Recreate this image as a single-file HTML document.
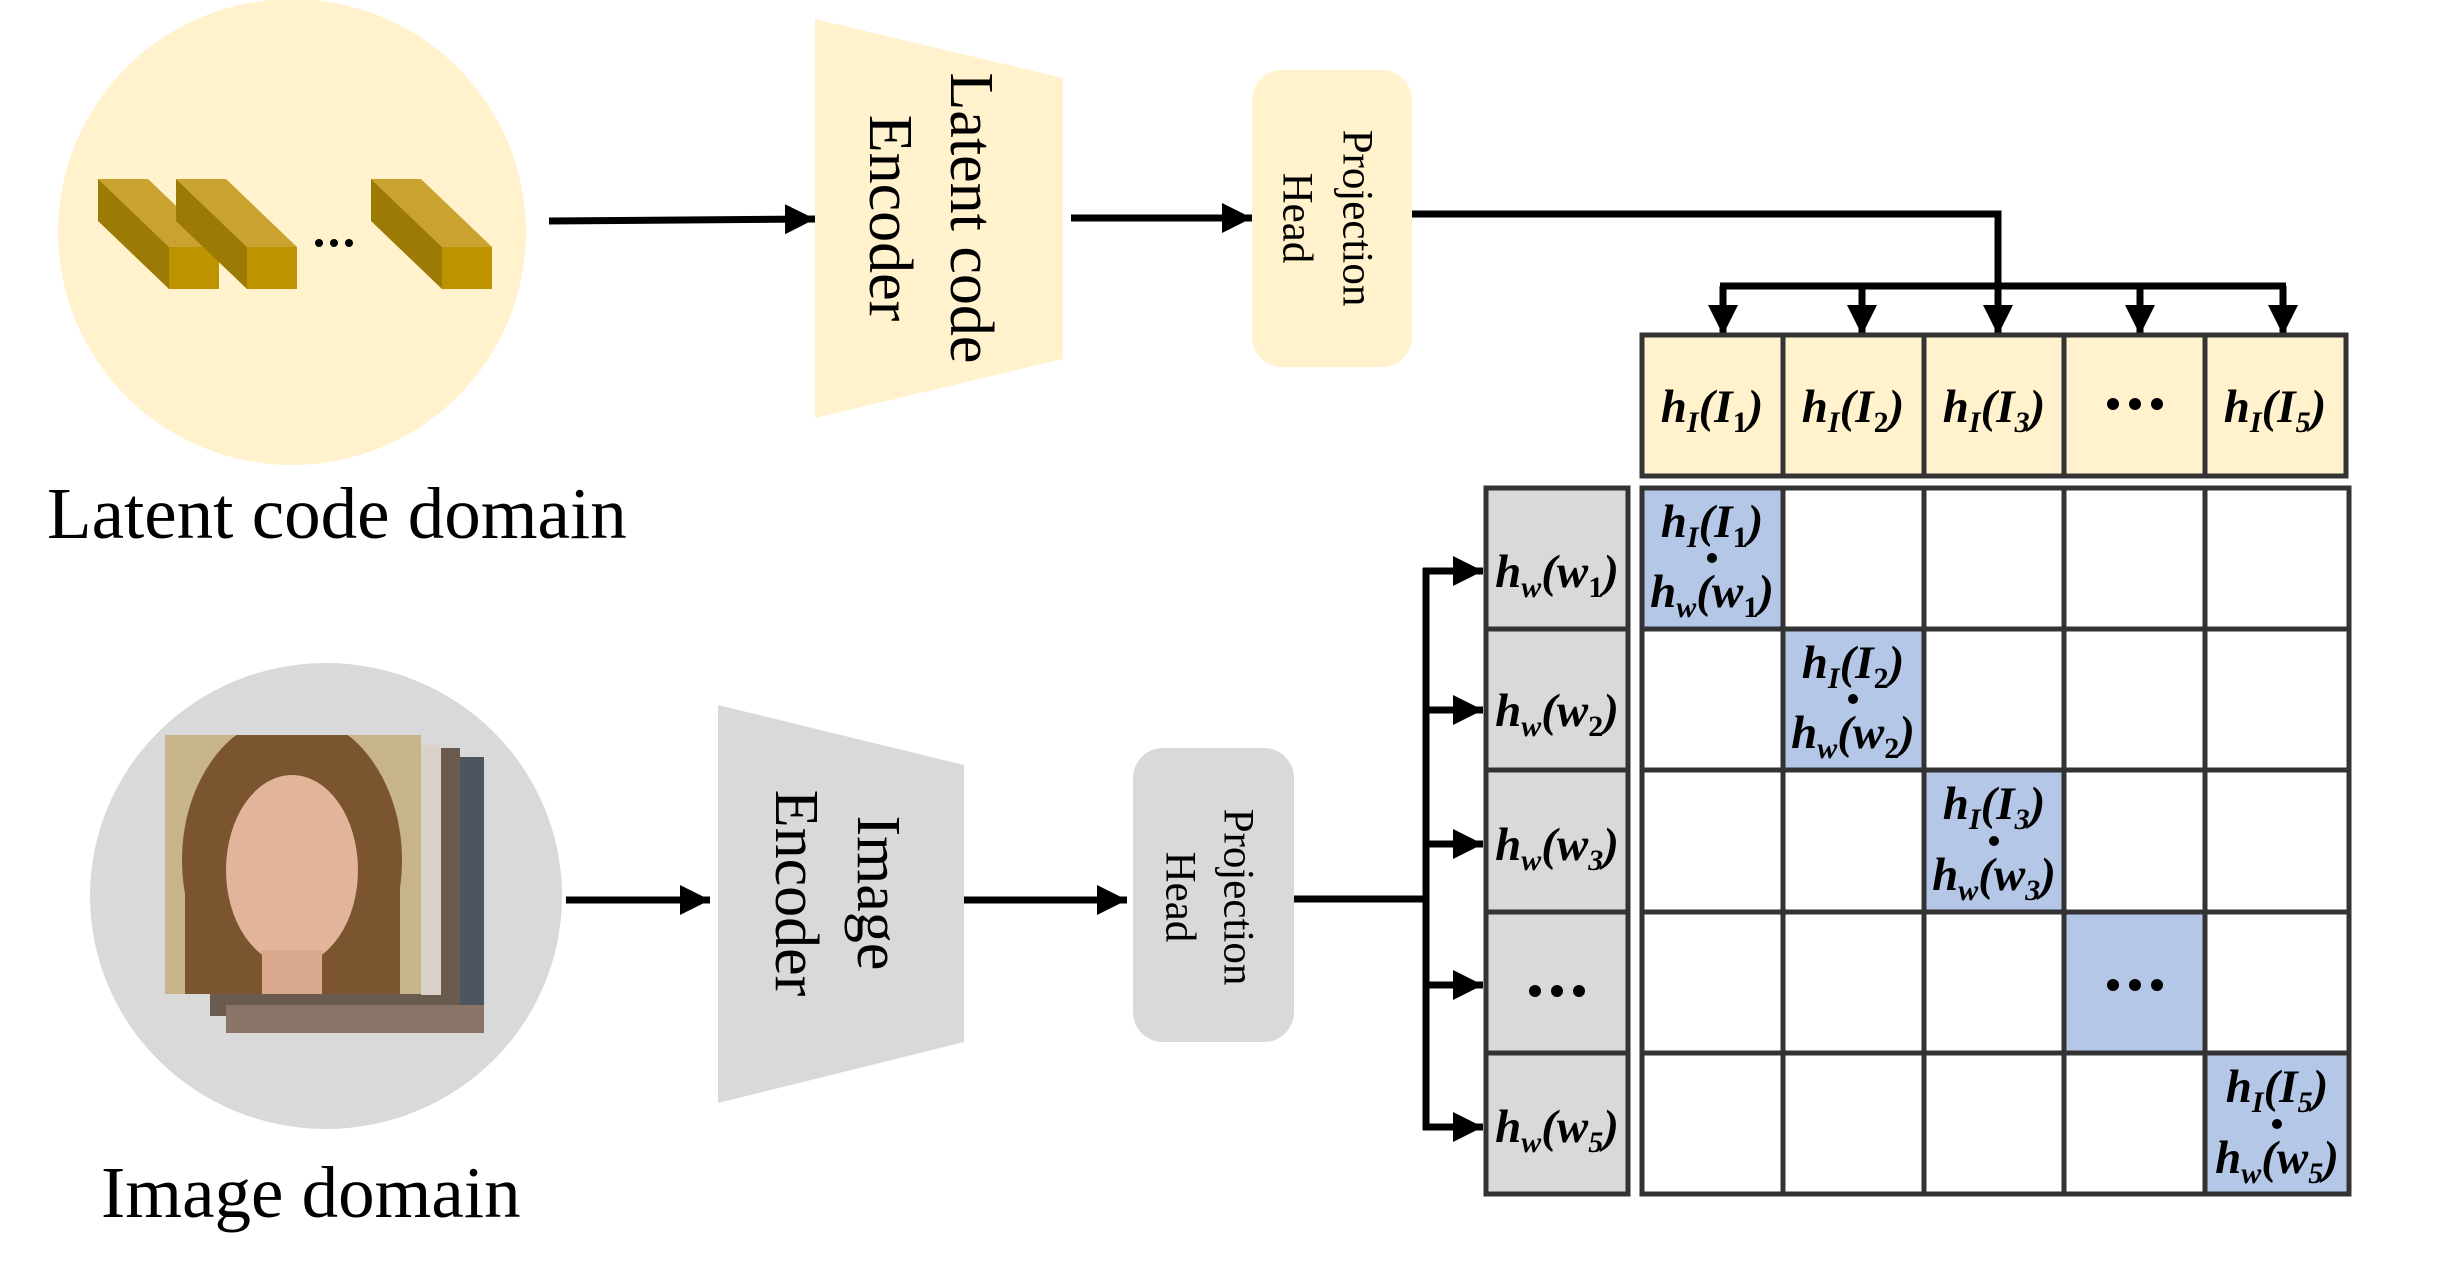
<!DOCTYPE html>
<html><head><meta charset="utf-8"><style>
html,body{margin:0;padding:0;background:#fff;}
svg{display:block;}
.t{font-family:"Liberation Serif",serif;fill:#000;}
.m{font-family:"Liberation Serif",serif;font-style:italic;font-weight:bold;font-size:47px;fill:#000;}
.s{font-size:30px;}
.n{font-style:normal;}
</style></head><body>
<svg width="2447" height="1280" viewBox="0 0 2447 1280" xmlns="http://www.w3.org/2000/svg">
<defs>
<marker id="a" markerUnits="userSpaceOnUse" markerWidth="34" markerHeight="34" refX="30" refY="15" orient="auto">
<polygon points="0,0 30,15 0,30" fill="#000"/>
</marker>
<clipPath id="fc"><rect x="165" y="735" width="256" height="259"/></clipPath>
</defs>

<ellipse cx="292" cy="232" rx="234" ry="233" fill="#fff2cc"/>
<ellipse cx="326" cy="896" rx="236" ry="233" fill="#d9d9d9"/>

<g>
<polygon points="98,179 148,179 219,247 169,247" fill="#c9a22f"/>
<polygon points="98,179 169,247 169,289 98,221" fill="#9c7a06"/>
<rect x="169" y="247" width="50" height="42" fill="#bf9300"/>
<polygon points="176,179 226,179 297,247 247,247" fill="#c9a22f"/>
<polygon points="176,179 247,247 247,289 176,221" fill="#9c7a06"/>
<rect x="247" y="247" width="50" height="42" fill="#bf9300"/>
<polygon points="371,179 421,179 492,247 442,247" fill="#c9a22f"/>
<polygon points="371,179 442,247 442,289 371,221" fill="#9c7a06"/>
<rect x="442" y="247" width="50" height="42" fill="#bf9300"/>
<circle cx="319" cy="243" r="4"/><circle cx="334" cy="243" r="4"/><circle cx="349" cy="243" r="4"/>
</g>

<rect x="226" y="757" width="258" height="276" fill="#4d5561"/>
<rect x="210" y="748" width="250" height="268" fill="#6b5a4e"/>
<rect x="226" y="1005" width="258" height="28" fill="#8a7468"/>
<rect x="421" y="745" width="20" height="250" fill="#d8d2c8"/>
<g clip-path="url(#fc)">
<rect x="165" y="735" width="256" height="259" fill="#c8b48a"/>
<ellipse cx="292" cy="860" rx="110" ry="145" fill="#7a5530"/>
<rect x="185" y="860" width="215" height="140" fill="#7a5530"/>
<ellipse cx="292" cy="870" rx="66" ry="95" fill="#e2b49a"/>
<rect x="262" y="950" width="60" height="50" fill="#d9a78c"/>
</g>

<polygon points="815,19 1063,78 1063,359 815,418" fill="#fff2cc"/>
<polygon points="718,705 964,765 964,1042 718,1103" fill="#d9d9d9"/>
<text class="t" font-size="62" text-anchor="middle" dominant-baseline="central" transform="rotate(90 971 218)" x="971" y="218">Latent code</text>
<text class="t" font-size="62" text-anchor="middle" dominant-baseline="central" transform="rotate(90 890 218)" x="890" y="218">Encoder</text>
<text class="t" font-size="62" text-anchor="middle" dominant-baseline="central" transform="rotate(90 878 893)" x="878" y="893">Image</text>
<text class="t" font-size="62" text-anchor="middle" dominant-baseline="central" transform="rotate(90 796 893)" x="796" y="893">Encoder</text>

<rect x="1252" y="70" width="160" height="297" rx="30" fill="#fff2cc"/>
<rect x="1133" y="748" width="161" height="294" rx="30" fill="#d9d9d9"/>
<text class="t" font-size="43" text-anchor="middle" dominant-baseline="central" transform="rotate(90 1357 218)" x="1357" y="218">Projection</text>
<text class="t" font-size="43" text-anchor="middle" dominant-baseline="central" transform="rotate(90 1297 218)" x="1297" y="218">Head</text>
<text class="t" font-size="43" text-anchor="middle" dominant-baseline="central" transform="rotate(90 1238 897)" x="1238" y="897">Projection</text>
<text class="t" font-size="43" text-anchor="middle" dominant-baseline="central" transform="rotate(90 1180 897)" x="1180" y="897">Head</text>

<text class="t" font-size="73" x="47" y="538">Latent code domain</text>
<text class="t" font-size="73" x="101" y="1217">Image domain</text>

<g stroke="#000" stroke-width="7" fill="none">
<line x1="549" y1="221" x2="815" y2="219" marker-end="url(#a)"/>
<line x1="1071" y1="218" x2="1252" y2="218" marker-end="url(#a)"/>
<line x1="566" y1="900" x2="710" y2="900" marker-end="url(#a)"/>
<line x1="964" y1="900" x2="1127" y2="900" marker-end="url(#a)"/>
<polyline points="1412,214 1998,214 1998,300"/>
<line x1="1720" y1="286" x2="2286" y2="286"/>
<line x1="1723" y1="286" x2="1723" y2="335" marker-end="url(#a)"/>
<line x1="1862" y1="286" x2="1862" y2="335" marker-end="url(#a)"/>
<line x1="1998" y1="286" x2="1998" y2="335" marker-end="url(#a)"/>
<line x1="2140" y1="286" x2="2140" y2="335" marker-end="url(#a)"/>
<line x1="2283" y1="286" x2="2283" y2="335" marker-end="url(#a)"/>
<line x1="1294" y1="899" x2="1426" y2="899"/>
<line x1="1426" y1="568" x2="1426" y2="1130"/>
<line x1="1423" y1="571" x2="1483" y2="571" marker-end="url(#a)"/>
<line x1="1423" y1="710" x2="1483" y2="710" marker-end="url(#a)"/>
<line x1="1423" y1="844" x2="1483" y2="844" marker-end="url(#a)"/>
<line x1="1423" y1="985" x2="1483" y2="985" marker-end="url(#a)"/>
<line x1="1423" y1="1127" x2="1483" y2="1127" marker-end="url(#a)"/>
</g>

<g stroke="#333" stroke-width="5">
<rect x="1642" y="335" width="141" height="141" fill="#fff2cc"/>
<rect x="1783" y="335" width="141" height="141" fill="#fff2cc"/>
<rect x="1924" y="335" width="140" height="141" fill="#fff2cc"/>
<rect x="2064" y="335" width="141" height="141" fill="#fff2cc"/>
<rect x="2205" y="335" width="141" height="141" fill="#fff2cc"/>
</g>
<g stroke="#333" stroke-width="5" fill="#d9d9d9">
<rect x="1486" y="488" width="142" height="141"/>
<rect x="1486" y="629" width="142" height="141"/>
<rect x="1486" y="770" width="142" height="142"/>
<rect x="1486" y="912" width="142" height="141"/>
<rect x="1486" y="1053" width="142" height="141"/>
</g>
<g stroke="#333" stroke-width="5">
<rect x="1642" y="488" width="707" height="706" fill="#fff"/>
<rect x="1642" y="488" width="141" height="141" fill="#b4c7e7"/>
<rect x="1783" y="629" width="141" height="141" fill="#b4c7e7"/>
<rect x="1924" y="770" width="140" height="142" fill="#b4c7e7"/>
<rect x="2064" y="912" width="141" height="141" fill="#b4c7e7"/>
<rect x="2205" y="1053" width="144" height="141" fill="#b4c7e7"/>
<line x1="1783" y1="488" x2="1783" y2="1194"/>
<line x1="1924" y1="488" x2="1924" y2="1194"/>
<line x1="2064" y1="488" x2="2064" y2="1194"/>
<line x1="2205" y1="488" x2="2205" y2="1194"/>
<line x1="1642" y1="629" x2="2349" y2="629"/>
<line x1="1642" y1="770" x2="2349" y2="770"/>
<line x1="1642" y1="912" x2="2349" y2="912"/>
<line x1="1642" y1="1053" x2="2349" y2="1053"/>
</g>

<text class="m" x="1712" y="422" text-anchor="middle">h<tspan class="s" dy="10">I</tspan><tspan dy="-10">(I</tspan><tspan class="s n" dy="10">1</tspan><tspan dy="-10">)</tspan></text>
<text class="m" x="1853" y="422" text-anchor="middle">h<tspan class="s" dy="10">I</tspan><tspan dy="-10">(I</tspan><tspan class="s n" dy="10">2</tspan><tspan dy="-10">)</tspan></text>
<text class="m" x="1994" y="422" text-anchor="middle">h<tspan class="s" dy="10">I</tspan><tspan dy="-10">(I</tspan><tspan class="s" dy="10">3</tspan><tspan dy="-10">)</tspan></text>
<g fill="#000"><circle cx="2113" cy="404" r="6"/><circle cx="2135" cy="404" r="6"/><circle cx="2157" cy="404" r="6"/></g>
<text class="m" x="2275" y="422" text-anchor="middle">h<tspan class="s" dy="10">I</tspan><tspan dy="-10">(I</tspan><tspan class="s" dy="10">5</tspan><tspan dy="-10">)</tspan></text>

<text class="m" x="1557" y="587" text-anchor="middle">h<tspan class="s" dy="10">w</tspan><tspan dy="-10">(w</tspan><tspan class="s n" dy="10">1</tspan><tspan dy="-10">)</tspan></text>
<text class="m" x="1557" y="726" text-anchor="middle">h<tspan class="s" dy="10">w</tspan><tspan dy="-10">(w</tspan><tspan class="s n" dy="10">2</tspan><tspan dy="-10">)</tspan></text>
<text class="m" x="1557" y="860" text-anchor="middle">h<tspan class="s" dy="10">w</tspan><tspan dy="-10">(w</tspan><tspan class="s" dy="10">3</tspan><tspan dy="-10">)</tspan></text>
<g fill="#000"><circle cx="1535" cy="991" r="6"/><circle cx="1557" cy="991" r="6"/><circle cx="1579" cy="991" r="6"/></g>
<text class="m" x="1557" y="1142" text-anchor="middle">h<tspan class="s" dy="10">w</tspan><tspan dy="-10">(w</tspan><tspan class="s" dy="10">5</tspan><tspan dy="-10">)</tspan></text>

<text class="m" x="1712" y="537" text-anchor="middle">h<tspan class="s" dy="10">I</tspan><tspan dy="-10">(I</tspan><tspan class="s n" dy="10">1</tspan><tspan dy="-10">)</tspan></text>
<circle cx="1712" cy="558" r="5"/>
<text class="m" x="1712" y="607" text-anchor="middle">h<tspan class="s" dy="10">w</tspan><tspan dy="-10">(w</tspan><tspan class="s n" dy="10">1</tspan><tspan dy="-10">)</tspan></text>

<text class="m" x="1853" y="678" text-anchor="middle">h<tspan class="s" dy="10">I</tspan><tspan dy="-10">(I</tspan><tspan class="s n" dy="10">2</tspan><tspan dy="-10">)</tspan></text>
<circle cx="1853" cy="699" r="5"/>
<text class="m" x="1853" y="748" text-anchor="middle">h<tspan class="s" dy="10">w</tspan><tspan dy="-10">(w</tspan><tspan class="s n" dy="10">2</tspan><tspan dy="-10">)</tspan></text>

<text class="m" x="1994" y="819" text-anchor="middle">h<tspan class="s" dy="10">I</tspan><tspan dy="-10">(I</tspan><tspan class="s" dy="10">3</tspan><tspan dy="-10">)</tspan></text>
<circle cx="1994" cy="841" r="5"/>
<text class="m" x="1994" y="890" text-anchor="middle">h<tspan class="s" dy="10">w</tspan><tspan dy="-10">(w</tspan><tspan class="s" dy="10">3</tspan><tspan dy="-10">)</tspan></text>

<g fill="#000"><circle cx="2113" cy="985" r="6"/><circle cx="2135" cy="985" r="6"/><circle cx="2157" cy="985" r="6"/></g>

<text class="m" x="2277" y="1102" text-anchor="middle">h<tspan class="s" dy="10">I</tspan><tspan dy="-10">(I</tspan><tspan class="s" dy="10">5</tspan><tspan dy="-10">)</tspan></text>
<circle cx="2277" cy="1124" r="5"/>
<text class="m" x="2277" y="1173" text-anchor="middle">h<tspan class="s" dy="10">w</tspan><tspan dy="-10">(w</tspan><tspan class="s" dy="10">5</tspan><tspan dy="-10">)</tspan></text>
</svg>
</body></html>
